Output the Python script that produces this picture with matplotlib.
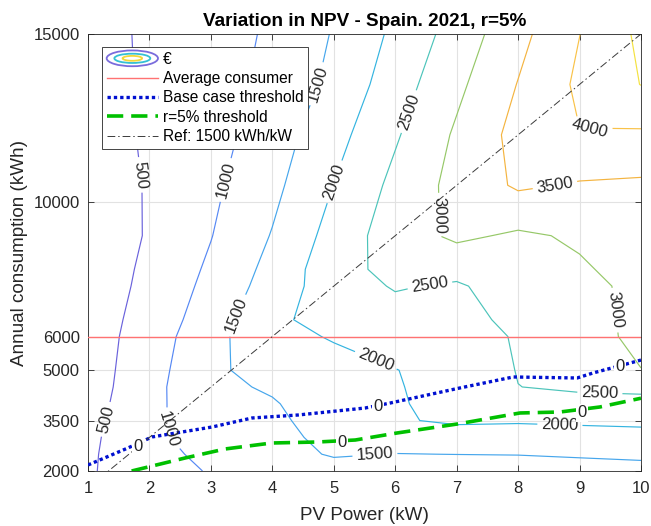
import numpy as np
import matplotlib
matplotlib.use("Agg")
import matplotlib.pyplot as plt
from matplotlib.legend_handler import HandlerBase
from matplotlib.patches import Ellipse

plt.rcParams['font.family'] = ['Liberation Sans', 'DejaVu Sans']

# grid of the NPV variation map
pv_kw = [1, 2, 3, 4, 5, 6, 7, 8, 9, 10]
consumption_kwh = [2000, 2500, 3000, 3500, 4000, 4500, 5000, 6000,
                   6500, 7500, 8000, 9000, 10500, 12000, 13500, 15000]

# variation in NPV (EUR), one row per consumption level, columns = pv_kw
npv_variation = [
    [456, 747, 1040, 1180, 1330, 1260, 1200, 1240, 1280, 1330],   # 2000
    [427, 850, 1112, 1335, 1540, 1490, 1505, 1515, 1560, 1600],   # 2500
    [384, 920, 1157, 1340, 1650, 1720, 1813, 1791, 1817, 1852],   # 3000
    [326, 920, 1200, 1400, 1720, 1960, 2060, 2045, 2073, 2094],   # 3500
    [282, 900, 1250, 1460, 1770, 1970, 2100, 2268, 2354, 2342],   # 4000
    [256, 851, 1380, 1560, 1820, 1980, 2110, 2495, 2570, 2620],   # 4500
    [250, 812, 1380, 1750, 1867, 1990, 2150, 2520, 2630, 2990],   # 5000
    [245, 745, 1330, 1880, 2030, 2190, 2350, 2530, 2760, 3140],   # 6000
    [224, 709, 1241, 1920, 2150, 2300, 2380, 2590, 2850, 3100],   # 6500
    [173, 640, 1128, 1720, 2260, 2540, 2440, 2750, 2900, 3090],   # 7500
    [165, 609, 1077, 1653, 2300, 2660, 2658, 2800, 2950, 3150],   # 8000
    [150, 546, 984, 1527, 2184, 2760, 3093, 2930, 3060, 3335],    # 9000
    [190, 543, 898, 1373, 2007, 2626, 3157, 3570, 3455, 3420],    # 10500
    [273, 564, 810, 1255, 1825, 2444, 3069, 3661, 3986, 3930],    # 12000
    [300, 567, 780, 1150, 1620, 2265, 2891, 3518, 4090, 4510],    # 13500
    [330, 568, 812, 1060, 1534, 2100, 2705, 3350, 3994, 4600],    # 15000
]
npv_levels = [500, 1000, 1500, 2000, 2500, 3000, 3500, 4000, 4500]

# zero-NPV thresholds
base_pv = [1.0, 1.65, 2.04, 3.02, 3.67, 4.42, 5.51, 5.92, 7.05, 7.92, 8.96, 9.22, 10.0]
base_cons = [2179, 2685, 3012, 3309, 3577, 3666, 3874, 4023, 4469, 4797, 4767, 4916, 5300]
r5_pv = [1.71, 2.58, 3.23, 3.99, 4.74, 5.35, 6.03, 7.01, 8.03, 8.68, 9.33, 10.0]
r5_cons = [2000, 2387, 2655, 2833, 2863, 2922, 3131, 3398, 3726, 3755, 3904, 4165]

avg_consumption = 6000
ref_ratio = 1500  # kWh/kW

level_colors = ['#6a62dc', '#5688f4', '#46a6ec', '#34b4e0', '#4cc4ba',
                '#96c868', '#f4b440', '#f9c248', '#f4e240']

# where the contour values are written
label_pos = [(1.81, 10800), (1.33, 3520), (3.15, 10700), (2.12, 3160),
             (4.76, 13500), (3.41, 6640), (5.67, 2470),
             (4.94, 10650), (5.72, 5450), (8.68, 3370),
             (6.24, 12680), (6.57, 7440), (9.33, 4290),
             (6.55, 9600), (9.6, 6790), (8.6, 10500), (9.17, 12050)]
base_zero_pos = [(1.81, 2714), (5.72, 3904), (9.66, 5094)]
r5_zero_pos = [(5.13, 2833), (9.04, 3726)]


class ContourKey:
    pass


class HandlerContourKey(HandlerBase):
    def create_artists(self, legend, orig_handle, xdescent, ydescent,
                       width, height, fontsize, trans):
        cx = width / 2 - xdescent
        cy = height / 2 - ydescent
        rings = [(1.0, 1.45, '#7a6cdc'), (0.7, 0.85, '#34c0d4'), (0.38, 0.45, '#f2d83a')]
        out = []
        for fw, fh, c in rings:
            out.append(Ellipse((cx, cy), width * fw, height * fh, fill=False,
                               edgecolor=c, lw=1.3, transform=trans))
        return out


fig = plt.figure(figsize=(6.51, 5.26), dpi=100)
ax = fig.add_axes([88 / 651, 55 / 526, 553 / 651, 437 / 526])

P, C = np.meshgrid(pv_kw, consumption_kwh)
cs = ax.contour(P, C, np.array(npv_variation), levels=npv_levels,
                colors=level_colors, linewidths=0.85, zorder=2)
ax.clabel(cs, fontsize=12, colors='#262626', fmt='%d', inline=True,
          inline_spacing=4, manual=label_pos)

ax.plot([1, 10], [avg_consumption, avg_consumption], color='#ff7272', lw=1.0, zorder=3)
ax.plot(base_pv, base_cons, color='#0010d0', lw=2.4, ls=(0, (1, 0.9)), zorder=3)
ax.plot(r5_pv, r5_cons, color='#00c000', lw=2.6, ls=(0, (4.5, 2.2)), zorder=3)
ref_pv = np.array([1, 10])
ax.plot(ref_pv, ref_pv * ref_ratio, color='#3a3a3a', lw=0.7,
        ls=(0, (8, 3, 1.5, 3)), zorder=3)

for x, y in base_zero_pos + r5_zero_pos:
    ax.text(x, y, '0', fontsize=12, ha='center', va='center', color='#262626',
            zorder=4, bbox=dict(boxstyle='square,pad=0.08', fc='white', ec='none'))

ax.set_xlim(1, 10)
ax.set_ylim(2000, 15000)
ax.set_xticks(pv_kw)
ax.set_yticks([2000, 3500, 5000, 6000, 10000, 15000])
ax.tick_params(direction='in', top=True, right=True, labelsize=12,
               colors='#262626', length=4, width=0.6)
ax.tick_params(axis='x', pad=7)
ax.tick_params(axis='y', pad=6)
ax.grid(True, color='#e2e2e2', lw=0.8)
ax.set_axisbelow(True)
for s in ax.spines.values():
    s.set_color('#262626')
    s.set_linewidth(0.6)

ax.set_xlabel('PV Power (kW)', fontsize=13.6, color='#262626', labelpad=8)
ax.set_ylabel('Annual consumption (kWh)', fontsize=13.6, color='#262626', labelpad=4)
ax.set_title('Variation in NPV - Spain. 2021, r=5%', fontsize=13.6,
             fontweight='bold', pad=6)

handles = [ContourKey(),
           plt.Line2D([], [], color='#ff7272', lw=1.0),
           plt.Line2D([], [], color='#0010d0', lw=2.4, ls=(0, (1, 0.9))),
           plt.Line2D([], [], color='#00c000', lw=2.6, ls=(0, (4.5, 2.2))),
           plt.Line2D([], [], color='#3a3a3a', lw=0.7, ls=(0, (8, 3, 1.5, 3)))]
labels = ['€', 'Average consumer', 'Base case threshold', 'r=5% threshold',
          'Ref: 1500 kWh/kW']
leg = ax.legend(handles, labels, handler_map={ContourKey: HandlerContourKey()},
                loc='upper left', bbox_to_anchor=(0.0253, 0.970), borderaxespad=0,
                fontsize=11.2, handlelength=3.3, handletextpad=0.3,
                labelspacing=0.28, borderpad=0.3, fancybox=False, framealpha=1,
                edgecolor='#262626')
leg.get_frame().set_linewidth(0.6)
leg.set_zorder(6)

fig.savefig('out.png', dpi=100)
